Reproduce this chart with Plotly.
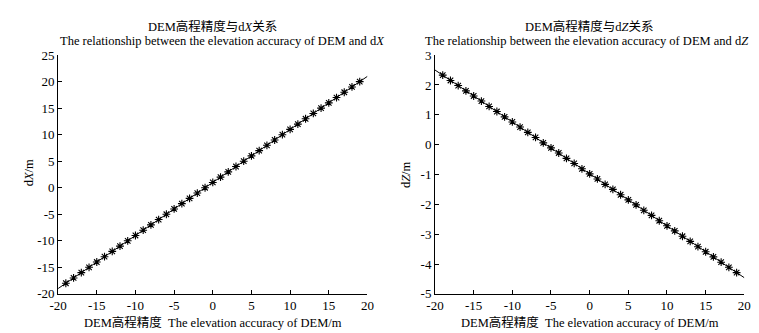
import plotly.graph_objects as go

# Data
x_vals = list(range(-20, 21))
dX_vals = [-19.0, -18.0, -17.0, -16.0, -15.0, -14.0, -13.0, -12.0, -11.0, -10.0,
           -9.0, -8.0, -7.0, -6.0, -5.0, -4.0, -3.0, -2.0, -1.0, 0.0,
           1.0, 2.0, 3.0, 4.0, 5.0, 6.0, 7.0, 8.0, 9.0, 10.0,
           11.0, 12.0, 13.0, 14.0, 15.0, 16.0, 17.0, 18.0, 19.0, 20.0, 21.0]
dZ_vals = [2.50, 2.33, 2.15, 1.98, 1.80, 1.63, 1.46, 1.28, 1.11, 0.93,
           0.76, 0.59, 0.41, 0.24, 0.06, -0.11, -0.28, -0.46, -0.63, -0.81,
           -0.98, -1.15, -1.33, -1.50, -1.68, -1.85, -2.02, -2.20, -2.37, -2.55,
           -2.72, -2.89, -3.07, -3.24, -3.42, -3.59, -3.76, -3.94, -4.11, -4.29, -4.46]

x_ticks = [-20, -15, -10, -5, 0, 5, 10, 15, 20]
x_ticktext = ["-20", "-15", "-10", "-5", "0", "5", "10", "15", "20"]
y1_ticks = [-20, -15, -10, -5, 0, 5, 10, 15, 20, 25]
y1_ticktext = ["-20", "-15", "-10", "-5", "0", "5", "10", "15", "20", "25"]
y2_ticks = [-5, -4, -3, -2, -1, 0, 1, 2, 3]
y2_ticktext = ["-5", "-4", "-3", "-2", "-1", "0", "1", "2", "3"]

W, H = 759, 333
FONT = "Liberation Serif, Times New Roman, Noto Sans CJK SC, serif"

def px(x):
    return x / W

def py(y):
    return 1 - y / H

fig = go.Figure()

for xa, ya, ys in [("x", "y", dX_vals), ("x2", "y2", dZ_vals)]:
    fig.add_trace(go.Scatter(x=x_vals, y=ys, mode="lines", xaxis=xa, yaxis=ya,
                             line=dict(color="black", width=1), showlegend=False,
                             hoverinfo="skip"))
    fig.add_trace(go.Scatter(x=x_vals[1:-1], y=ys[1:-1], mode="markers", xaxis=xa, yaxis=ya,
                             marker=dict(symbol="asterisk-open", size=6.5, color="black",
                                         line=dict(color="black", width=1.1)),
                             showlegend=False))

axis_common = dict(showline=True, linecolor="black", linewidth=1, ticks="inside",
                   ticklen=4, tickcolor="black", showgrid=False, zeroline=False,
                   tickfont=dict(family=FONT, size=13, color="black"), mirror=False)

fig.update_layout(
    width=W, height=H, margin=dict(l=0, r=0, t=0, b=0),
    paper_bgcolor="white", plot_bgcolor="white",
    xaxis=dict(domain=[px(42), px(358)], range=[-20, 20], tickvals=x_ticks, ticktext=x_ticktext,
               anchor="y", **axis_common),
    yaxis=dict(domain=[py(292), py(42)], range=[-20, 25], tickvals=y1_ticks, ticktext=y1_ticktext,
               anchor="x", **axis_common),
    xaxis2=dict(domain=[px(427), px(743)], range=[-20, 20], tickvals=x_ticks, ticktext=x_ticktext,
                anchor="y2", **axis_common),
    yaxis2=dict(domain=[py(292), py(42)], range=[-5, 3], tickvals=y2_ticks, ticktext=y2_ticktext,
                anchor="x2", **axis_common),
)

ann = []
def add(text, x, y, size=12.5, angle=0):
    ann.append(dict(text=text, x=px(x), y=py(y), xref="paper", yref="paper",
                    showarrow=False, xanchor="center", yanchor="middle", textangle=angle,
                    font=dict(family=FONT, size=size, color="black")))

add("DEM高程精度与d<i>X</i>关系", 200, 12)
add("The relationship between the elevation accuracy of DEM and d<i>X</i>", 210, 27)
add("DEM高程精度与d<i>Z</i>关系", 585, 12)
add("The relationship between the elevation accuracy of DEM and d<i>Z</i>", 582, 27)
add("DEM高程精度  The elevation accuracy of DEM/m", 200, 322)
add("DEM高程精度  The elevation accuracy of DEM/m", 585, 322)
add("d<i>X</i>/m", 12, 165, angle=-90)
add("d<i>Z</i>/m", 398, 167, angle=-90)
fig.update_layout(annotations=ann)

fig.write_html("out.html")
